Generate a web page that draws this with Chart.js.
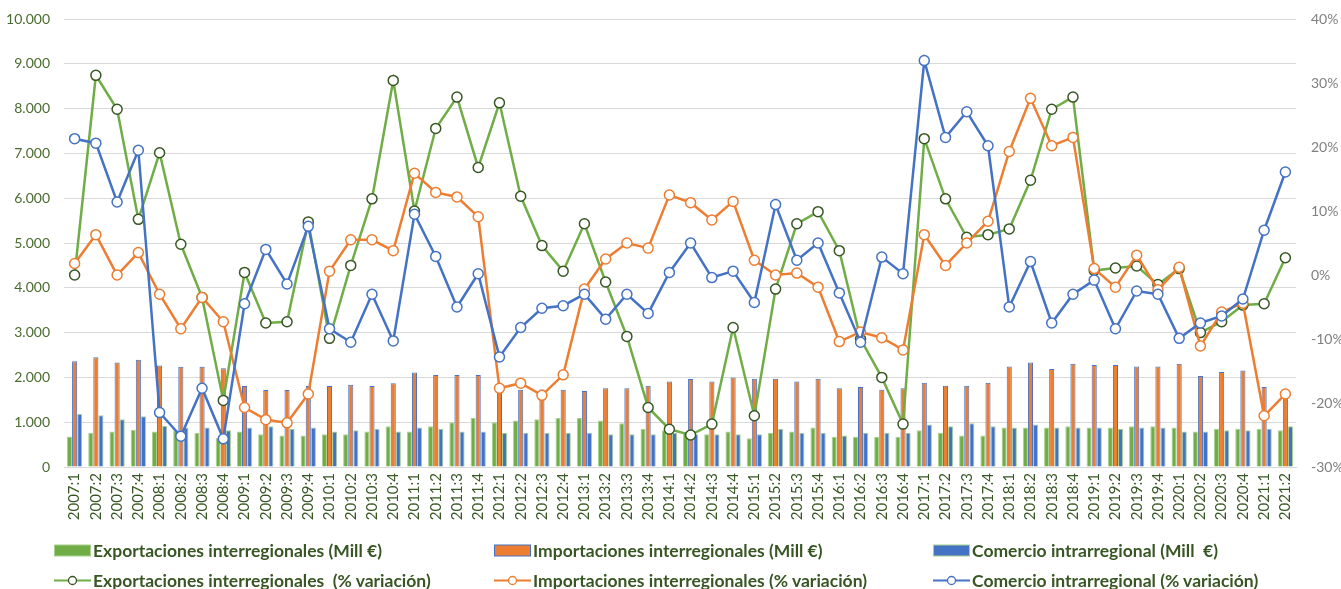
<!DOCTYPE html>
<html lang="es">
<head>
<meta charset="utf-8">
<title>Comercio interregional e intrarregional</title>
<script src="https://cdn.jsdelivr.net/npm/chart.js@4.4.1/dist/chart.umd.min.js"></script>
<style>
    html, body {
        margin: 0;
        padding: 0;
        background: #ffffff;
    }
    #wrap {
        position: relative;
        width: 1341px;
        height: 589px;
    }
    #legend {
        position: absolute;
        left: 54px;
        top: 535px;
        display: grid;
        grid-template-columns: 440px 439px 360px;
        grid-auto-rows: 30px;
        font-family: Lato, "Open Sans", sans-serif;
        font-weight: bold;
        font-size: 17.5px;
        color: #375623;
    }
    .item {
        display: flex;
        align-items: center;
        white-space: pre;
    }
    .item svg {
        margin-right: 2px;
        flex: none;
    }
</style>
</head>
<body>
<div id="wrap">
    <canvas id="tradeChart" width="1341" height="589"></canvas>
    <div id="legend"></div>
</div>
<script>
const quarters = [
    '2007:1', '2007:2', '2007:3', '2007:4', '2008:1', '2008:2', '2008:3', '2008:4',
    '2009:1', '2009:2', '2009:3', '2009:4', '2010:1', '2010:2', '2010:3', '2010:4',
    '2011:1', '2011:2', '2011:3', '2011:4', '2012:1', '2012:2', '2012:3', '2012:4',
    '2013:1', '2013:2', '2013:3', '2013:4', '2014:1', '2014:2', '2014:3', '2014:4',
    '2015:1', '2015:2', '2015:3', '2015:4', '2016:1', '2016:2', '2016:3', '2016:4',
    '2017:1', '2017:2', '2017:3', '2017:4', '2018:1', '2018:2', '2018:3', '2018:4',
    '2019:1', '2019:2', '2019:3', '2019:4', '2020:1', '2020:2', '2020:3', '2020:4',
    '2021:1', '2021:2'
];

// millones de euros
const exportsMill = [
    680, 763, 793, 830, 793, 815, 763, 652, 793, 733, 704, 704, 733, 733, 793, 911,
    793, 911, 1000, 1096, 1000, 1037, 1067, 1096, 1096, 1037, 978, 852, 822, 763, 733, 793,
    644, 763, 793, 881, 674, 674, 674, 674, 822, 763, 704, 704, 881, 881, 881, 911,
    881, 881, 911, 911, 881, 793, 852, 852, 852, 822
];
const importsMill = [
    2363, 2452, 2333, 2393, 2267, 2237, 2237, 2207, 1807, 1719, 1719, 1807, 1807, 1837, 1807, 1867,
    2111, 2052, 2052, 2052, 1760, 1726, 1730, 1726, 1696, 1756, 1756, 1815, 1911, 1963, 1911, 2000,
    1970, 1970, 1911, 1970, 1756, 1785, 1726, 1756, 1881, 1815, 1815, 1881, 2244, 2333, 2185, 2304,
    2274, 2274, 2244, 2244, 2304, 2030, 2119, 2156, 1785, 1570
];
const intraMill = [
    1185, 1156, 1067, 1133, 919, 881, 881, 822, 881, 911, 852, 881, 793, 822, 852, 793,
    881, 852, 793, 793, 763, 763, 763, 763, 763, 733, 733, 733, 763, 733, 733, 733,
    733, 852, 763, 763, 704, 763, 763, 763, 948, 911, 978, 911, 881, 948, 881, 881,
    881, 852, 881, 881, 793, 793, 822, 822, 852, 911
];

// % variación
const exportsPct = [
    0, 31.2, 25.9, 8.7, 19.1, 4.8, -3.5, -19.6, 0.4, -7.5, -7.3, 8.3, -9.9, 1.5, 11.9, 30.4,
    10, 22.9, 27.8, 16.8, 26.9, 12.3, 4.6, 0.6, 8, -1.1, -9.6, -20.7, -24.1, -25, -23.3, -8.2,
    -22, -2.2, 8, 9.9, 3.8, -10, -16, -23.3, 21.3, 11.9, 5.9, 6.3, 7.2, 14.8, 25.9, 27.8,
    0.7, 1.1, 1.4, -1.5, 1, -9, -7.3, -4.7, -4.5, 2.7
];
const importsPct = [
    1.8, 6.3, 0, 3.5, -3, -8.4, -3.5, -7.3, -20.7, -22.6, -23.1, -18.6, 0.6, 5.5, 5.5, 3.8,
    15.9, 12.9, 12.2, 9.1, -17.7, -16.9, -18.8, -15.6, -2.2, 2.5, 5, 4.2, 12.5, 11.3, 8.6, 11.5,
    2.3, 0, 0.3, -1.9, -10.4, -8.9, -9.8, -11.7, 6.3, 1.5, 5, 8.4, 19.3, 27.6, 20.2, 21.5,
    1, -1.9, 3.1, -2.3, 1.2, -11.1, -5.8, -4.4, -22, -18.6
];
const intraPct = [
    21.3, 20.6, 11.4, 19.5, -21.5, -25.2, -17.7, -25.6, -4.5, 4, -1.4, 7.6, -8.4, -10.5, -3, -10.3,
    9.5, 2.9, -5, 0.2, -12.8, -8.2, -5.2, -4.8, -3, -6.9, -3, -6, 0.4, 5, -0.4, 0.6,
    -4.3, 11, 2.3, 5, -2.8, -10.5, 2.8, 0.2, 33.5, 21.5, 25.5, 20.2, -5, 2.1, -7.5, -3,
    -0.8, -8.4, -2.5, -3, -9.9, -7.5, -6.4, -3.75, 7, 16.1
];

const GREEN = '#70ad47';
const ORANGE = '#ed7d31';
const BLUE = '#4472c4';
const DARK_GREEN = '#375623';
const LIGHT_GREEN = '#a9d18e';
const FONT = 'Lato, "Open Sans", sans-serif';

const ctx = document.getElementById('tradeChart').getContext('2d');
const legendBox = document.getElementById('legend');

function thousands(v) {
    return String(v).replace(/\B(?=(\d{3})+(?!\d))/g, '.');
}

function barSet(label, data, fill, edge) {
    return {
        type: 'bar',
        label: label,
        data: data,
        yAxisID: 'y',
        backgroundColor: fill,
        borderColor: edge,
        borderWidth: 1,
        categoryPercentage: 0.72,
        barPercentage: 1,
        order: 10
    };
}

function lineSet(label, data, color, markerEdge, order) {
    return {
        type: 'line',
        label: label,
        data: data,
        yAxisID: 'y1',
        borderColor: color,
        borderWidth: 2.5,
        pointRadius: 5,
        pointBorderWidth: 1.5,
        pointBorderColor: markerEdge,
        pointBackgroundColor: '#ffffff',
        tension: 0,
        order: order
    };
}

// the gap between labels and plot comes from invisible tick marks,
// so ticks.padding stays 0 and doesn't push the plot top down
const tradeChart = new Chart(ctx, {
    data: {
        labels: quarters,
        datasets: [
            barSet('Exportaciones interregionales (Mill €)', exportsMill, GREEN, LIGHT_GREEN),
            barSet('Importaciones interregionales (Mill €)', importsMill, ORANGE, BLUE),
            barSet('Comercio intrarregional (Mill  €)', intraMill, BLUE, LIGHT_GREEN),
            lineSet('Exportaciones interregionales  (% variación)', exportsPct, GREEN, DARK_GREEN, 3),
            lineSet('Importaciones interregionales (% variación)', importsPct, ORANGE, ORANGE, 2),
            lineSet('Comercio intrarregional (% variación)', intraPct, BLUE, BLUE, 1)
        ]
    },
    options: {
        responsive: false,
        animation: false,
        layout: {
            padding: { top: 19, bottom: 59, left: 0, right: 0 }
        },
        plugins: {
            legend: { display: false },
            tooltip: { enabled: false }
        },
        scales: {
            x: {
                grid: { display: false, drawTicks: false },
                border: { color: '#d9d9d9', width: 1 },
                ticks: {
                    autoSkip: false,
                    minRotation: 90,
                    maxRotation: 90,
                    padding: 6,
                    color: DARK_GREEN,
                    font: { family: FONT, size: 15 }
                },
                afterFit: scale => { scale.height = 63; }
            },
            y: {
                position: 'left',
                min: 0,
                max: 10000,
                grid: {
                    color: '#d9d9d9',
                    lineWidth: 1,
                    drawTicks: true,
                    tickLength: 14,
                    tickColor: 'rgba(0,0,0,0)'
                },
                border: { display: false },
                ticks: {
                    stepSize: 1000,
                    padding: 0,
                    color: '#4a6b2f',
                    font: { family: FONT, size: 14 },
                    callback: v => thousands(v)
                },
                afterFit: scale => { scale.width = 64; }
            },
            y1: {
                position: 'right',
                min: -30,
                max: 40,
                grid: {
                    drawOnChartArea: false,
                    drawTicks: true,
                    tickLength: 15,
                    color: 'rgba(0,0,0,0)',
                    tickColor: 'rgba(0,0,0,0)'
                },
                border: { display: false },
                ticks: {
                    stepSize: 10,
                    padding: 0,
                    color: '#7f7f7f',
                    font: { family: FONT, size: 14 },
                    callback: v => v + '%'
                },
                afterFit: scale => { scale.width = 45; }
            }
        }
    }
});

// leyenda en tres columnas: barras arriba, líneas abajo
function swatch(ds) {
    if (ds.type === 'bar') {
        return '<svg width="37" height="13"><rect x="0.5" y="1" width="36" height="11" fill="' +
            ds.backgroundColor + '" stroke="' + ds.borderColor + '" stroke-width="1"/></svg>';
    }
    return '<svg width="37" height="13"><line x1="0" y1="6.5" x2="37" y2="6.5" stroke="' +
        ds.borderColor + '" stroke-width="2"/><circle cx="18.5" cy="6.5" r="4" fill="#fff" stroke="' +
        ds.pointBorderColor + '" stroke-width="1.3"/></svg>';
}

tradeChart.data.datasets.forEach(ds => {
    const item = document.createElement('div');
    item.className = 'item';
    item.innerHTML = swatch(ds) + '<span>' + ds.label + '</span>';
    legendBox.appendChild(item);
});
</script>
</body>
</html>
